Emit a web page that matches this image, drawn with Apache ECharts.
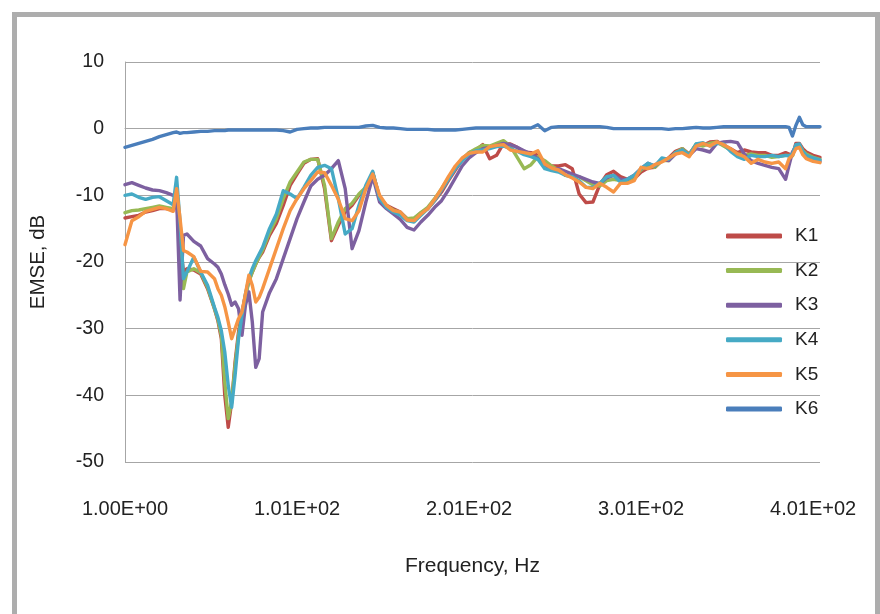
<!DOCTYPE html>
<html>
<head>
<meta charset="utf-8">
<title>EMSE vs Frequency</title>
<script src="https://cdn.jsdelivr.net/npm/echarts@6/dist/echarts.min.js"></script>
<style>
  html, body { margin: 0; padding: 0; background: #ffffff; }
  #chart { width: 880px; height: 614px; }
</style>
</head>
<body>
<div id="chart"></div>
<script>
// Frequency samples (Hz), denser around the deep notches and the K6 glitch
const freq = [
  1, 5, 9, 13, 17, 21, 25, 29,
  31, 33, 35,
  37, 41, 45, 49,
  53, 55, 57, 59, 61, 63, 65, 67, 69, 71, 73, 75, 77, 79, 81,
  85, 89, 93, 97, 101, 105, 109, 113, 117, 121,
  125, 129, 133, 137, 141, 145, 149, 153, 157, 161,
  165, 169, 173, 177, 181, 185, 189, 193, 197, 201,
  205, 209, 213, 217, 221, 225, 229, 233, 237, 241,
  245, 249, 253, 257, 261, 265, 269, 273, 277, 281,
  285, 289, 293, 297, 301, 305, 309, 313, 317, 321,
  325, 329, 333, 337, 341, 345, 349, 353, 357, 361,
  365, 369, 373, 377, 381, 385,
  387, 389, 391, 393, 395, 397, 401, 405
];

// EMSE (dB) of each channel at the samples above
const k1 = [
  -13.4, -13.2, -13.0, -12.5, -12.3, -12.0, -12.0, -12.2,
  -11.0, -17.0, -21.5,
  -21.0, -21.2, -21.8, -24.0,
  -27.0, -28.8, -31.5, -40.0, -44.8, -41.0, -35.0, -30.5, -27.5, -25.0, -22.8, -21.5, -20.3, -19.3, -18.5,
  -16.0, -14.2, -11.5, -8.5, -6.8, -5.2, -4.6, -4.5, -9.0, -16.8,
  -14.5, -12.5, -11.5, -10.0, -9.0, -6.6, -10.3, -11.5, -12.0, -12.5,
  -13.5, -13.5, -12.6, -12.0, -10.8, -9.5, -7.8, -6.2, -4.7, -3.6,
  -3.2, -2.4, -4.5, -4.0, -2.2, -2.3, -2.8, -3.5, -3.6, -4.0,
  -5.1, -5.6, -5.6, -5.4, -6.0, -9.8, -11.1, -11.0, -8.4, -6.9,
  -6.4, -7.2, -7.6, -7.5, -6.5, -5.9, -5.8, -4.8, -4.4, -3.4,
  -3.0, -3.8, -2.4, -2.5, -2.0, -1.9, -2.5, -3.0, -3.6, -3.2,
  -3.5, -3.6, -3.6, -4.0, -4.0, -3.6,
  -3.8, -4.0, -2.2, -2.2, -3.0, -3.5, -4.0, -4.3
];

const k2 = [
  -12.6, -12.3, -12.2, -12.0, -11.8, -11.6, -11.8, -12.0,
  -10.5, -16.0, -24.0,
  -21.5, -21.0, -21.6, -23.8,
  -27.0, -28.6, -31.0, -38.0, -43.5, -41.0, -35.5, -31.0, -28.0, -25.2, -23.0, -21.5, -20.3, -19.2, -18.2,
  -15.6, -13.5, -10.5, -8.0, -6.5, -5.0, -4.6, -4.6, -8.5, -16.5,
  -14.0, -12.0, -11.2, -9.8, -8.8, -6.6, -10.5, -11.6, -12.2, -12.6,
  -13.5, -13.4, -12.6, -11.8, -10.5, -9.0, -7.4, -5.8, -4.5, -3.6,
  -3.0, -2.5, -2.6, -2.2, -1.8, -2.6, -4.3, -6.0, -5.4, -4.2,
  -4.8, -5.6, -6.2, -7.0, -7.2, -7.2, -7.8, -8.4, -8.6, -7.8,
  -7.6, -7.8, -7.8, -7.2, -6.2, -5.4, -5.8, -4.8, -4.8, -3.6,
  -3.0, -3.9, -2.3, -2.6, -2.2, -2.0, -2.6, -3.2, -3.8, -4.0,
  -3.8, -4.0, -4.0, -4.3, -4.2, -4.0,
  -4.0, -4.1, -2.6, -2.4, -3.3, -3.8, -4.3, -4.6
];

const k3 = [
  -8.4, -8.1, -8.5, -8.9, -9.2, -9.3, -9.6, -10.0,
  -10.2, -25.7, -16.0,
  -15.8, -16.9, -17.6, -19.5,
  -20.3, -20.8, -21.8, -23.4, -24.8, -26.5, -26.0, -27.0, -31.0, -26.5, -24.5, -29.0, -35.8, -34.5, -27.5,
  -24.6, -22.5, -19.5, -16.5, -13.5, -11.0, -8.6, -7.6, -7.0, -6.0,
  -4.8, -9.0, -18.0, -15.3, -11.0, -7.2, -11.0, -12.0, -12.8, -13.6,
  -14.8, -15.2, -14.0, -13.0, -11.8, -10.8, -9.2, -7.4, -5.6, -4.4,
  -3.6, -3.0, -2.8, -2.5, -2.2, -2.4, -2.8, -3.3, -3.8, -4.5,
  -5.5, -6.0, -6.0, -6.4, -6.8, -7.2, -7.6, -8.0, -8.2, -7.4,
  -7.0, -7.6, -7.6, -7.0, -6.0, -5.2, -5.6, -4.6, -4.8, -3.8,
  -3.2, -4.0, -3.0, -3.2, -3.5, -2.2, -2.0, -1.9, -2.1, -3.8,
  -4.8, -5.2, -5.5, -5.8, -6.0, -7.6,
  -5.5, -3.5, -2.7, -2.6, -3.6, -4.2, -4.7, -4.9
];

const k4 = [
  -10.0, -9.8, -10.3, -10.6, -10.3, -10.2, -10.8, -11.4,
  -7.3, -14.0, -22.5,
  -21.5, -19.3, -21.5, -23.5,
  -26.8, -28.3, -30.3, -33.5, -38.5, -41.8, -37.0, -31.5, -28.0, -24.8, -22.5, -21.0, -19.8, -18.8, -17.8,
  -15.0, -12.8, -9.3, -9.8, -10.5, -8.8, -7.0, -5.8, -5.5, -6.0,
  -10.5, -15.8, -15.0, -11.5, -8.5, -6.4, -10.5, -11.8, -12.5, -13.0,
  -13.8, -14.0, -13.0, -12.0, -10.8, -9.2, -7.6, -6.0, -4.8, -3.8,
  -3.3, -3.2, -3.0, -2.7, -2.6, -3.0, -3.4, -3.9, -4.2, -4.6,
  -6.0, -6.3, -6.5, -7.0, -7.2, -7.8, -8.8, -8.8, -8.2, -7.2,
  -7.0, -8.0, -7.6, -7.0, -6.0, -5.2, -5.6, -4.4, -4.6, -3.6,
  -3.2, -4.0, -2.3, -2.1, -2.6, -2.2, -2.3, -3.4, -4.2, -4.6,
  -4.0, -4.2, -4.2, -4.0, -4.2, -4.0,
  -4.1, -3.8, -2.4, -2.3, -3.4, -4.0, -4.4, -4.7
];

const k5 = [
  -17.4, -13.8, -13.2, -12.4, -12.1, -11.8, -12.0, -12.4,
  -9.0, -13.5, -18.3,
  -18.5, -19.2, -21.4, -21.5,
  -22.5, -24.0, -25.0, -26.7, -29.0, -31.5, -30.0, -28.5, -27.5, -24.8, -22.0, -23.5, -26.0, -25.3, -24.0,
  -21.0, -18.0, -15.0, -12.3, -10.5, -9.0, -7.8, -6.5, -6.6, -8.5,
  -10.6, -13.5, -13.8, -12.3, -9.0, -6.8, -10.0, -11.5, -12.3, -12.5,
  -13.7, -13.8, -12.8, -12.0, -10.6, -9.0, -7.2, -5.6, -4.4, -3.7,
  -3.5, -3.5, -2.7, -2.5, -2.4, -3.2, -3.4, -3.6, -3.8, -3.3,
  -5.3, -5.9, -6.2, -6.9, -7.4, -8.0, -8.8, -9.0, -8.2, -8.8,
  -9.5, -8.2, -8.2, -7.8, -5.8, -6.0, -5.4, -5.0, -4.4, -3.8,
  -3.6, -4.2, -2.6, -2.2, -2.6, -2.0, -2.4, -3.0, -3.8, -4.2,
  -5.2, -4.6, -5.0, -5.2, -5.0, -6.0,
  -4.5, -4.0, -3.0, -2.8, -3.9, -4.5, -4.9, -5.1
];

const k6 = [
  -2.8, -2.5, -2.2, -1.9, -1.6, -1.2, -0.9, -0.6,
  -0.5, -0.7, -0.6,
  -0.6, -0.5, -0.4, -0.4,
  -0.3, -0.3, -0.3, -0.3, -0.2, -0.2, -0.2, -0.2, -0.2, -0.2, -0.2, -0.2, -0.2, -0.2, -0.2,
  -0.2, -0.2, -0.3, -0.5, -0.1, 0.0, 0.1, 0.1, 0.2, 0.2,
  0.2, 0.2, 0.2, 0.2, 0.4, 0.5, 0.2, 0.1, 0.1, 0.0,
  -0.1, -0.1, -0.1, -0.1, -0.2, -0.2, -0.2, -0.2, -0.1, 0.0,
  0.1, 0.1, 0.1, 0.1, 0.1, 0.1, 0.1, 0.1, 0.1, 0.6,
  -0.3, 0.2, 0.3, 0.3, 0.3, 0.3, 0.3, 0.3, 0.3, 0.2,
  0.0, 0.0, 0.0, 0.0, 0.0, 0.0, 0.0, 0.0, -0.1, 0.0,
  0.0, 0.1, 0.2, 0.1, 0.1, 0.2, 0.3, 0.3, 0.3, 0.3,
  0.3, 0.3, 0.3, 0.3, 0.3, 0.3,
  0.2, -1.1, 0.5, 1.7, 0.6, 0.3, 0.3, 0.3
];

const seriesNames = ['K1', 'K2', 'K3', 'K4', 'K5', 'K6'];
const seriesValues = [k1, k2, k3, k4, k5, k6];
const seriesColors = ['#BE4B48', '#98B954', '#7D60A0', '#46AAC5', '#F69545', '#4A7EBB'];

// x tick positions (Hz) shown on the frequency axis
const freqTicks = [1, 101, 201, 301, 401];

// 1.00E+00 style scientific notation
function sci(v) {
  const e = Math.floor(Math.log10(v));
  const m = v / Math.pow(10, e);
  const sign = e < 0 ? '-' : '+';
  return m.toFixed(2) + 'E' + sign + String(Math.abs(e)).padStart(2, '0');
}

const FONT = '"Liberation Sans", Arial, Helvetica, sans-serif';
const GRID_GRAY = '#a6a6a6';

const chart = echarts.init(document.getElementById('chart'), null, { renderer: 'canvas' });

chart.setOption({
  animation: false,
  backgroundColor: '#ffffff',
  textStyle: { fontFamily: FONT, color: '#222222' },
  graphic: [{
    type: 'rect',
    silent: true,
    z: -10,
    shape: { x: 14.5, y: 14.5, width: 863, height: 700 },
    style: { fill: 'none', stroke: '#adadad', lineWidth: 5 }
  }],
  grid: { left: 125, top: 62, right: 60, bottom: 152, containLabel: false },
  xAxis: {
    type: 'value',
    min: 1,
    max: 405,
    axisLine: { show: true, lineStyle: { color: GRID_GRAY, width: 1 } },
    axisTick: { show: false },
    splitLine: { show: false },
    axisLabel: {
      customValues: freqTicks,
      formatter: sci,
      fontSize: 20,
      color: '#222222',
      fontFamily: FONT,
      margin: 37
    },
    name: 'Frequency, Hz',
    nameLocation: 'middle',
    nameGap: 94,
    nameTextStyle: { fontSize: 21, color: '#222222', fontFamily: FONT }
  },
  yAxis: {
    type: 'value',
    min: -50,
    max: 10,
    interval: 10,
    axisLine: { show: true, lineStyle: { color: GRID_GRAY, width: 1 } },
    axisTick: { show: false },
    splitLine: { show: true, lineStyle: { color: GRID_GRAY, width: 1 } },
    axisLabel: { fontSize: 19.5, color: '#222222', fontFamily: FONT, margin: 21 },
    name: 'EMSE, dB',
    nameLocation: 'middle',
    nameGap: 76,
    nameTextStyle: { fontSize: 20.5, color: '#222222', fontFamily: FONT }
  },
  legend: {
    orient: 'vertical',
    left: 721,
    top: 221,
    icon: 'roundRect',
    itemWidth: 56,
    itemHeight: 5,
    itemGap: 14.6,
    data: seriesNames,
    textStyle: { fontSize: 19, color: '#222222', fontFamily: FONT, lineHeight: 20, padding: [0, 0, 0, 8] }
  },
  series: seriesNames.map((name, s) => ({
    name: name,
    type: 'line',
    data: freq.map((f, i) => [f, seriesValues[s][i]]),
    showSymbol: false,
    symbol: 'none',
    smooth: false,
    color: seriesColors[s],
    lineStyle: { color: seriesColors[s], width: 3.4, cap: 'round', join: 'round' },
    z: 2 + s
  }))
});
</script>
</body>
</html>
